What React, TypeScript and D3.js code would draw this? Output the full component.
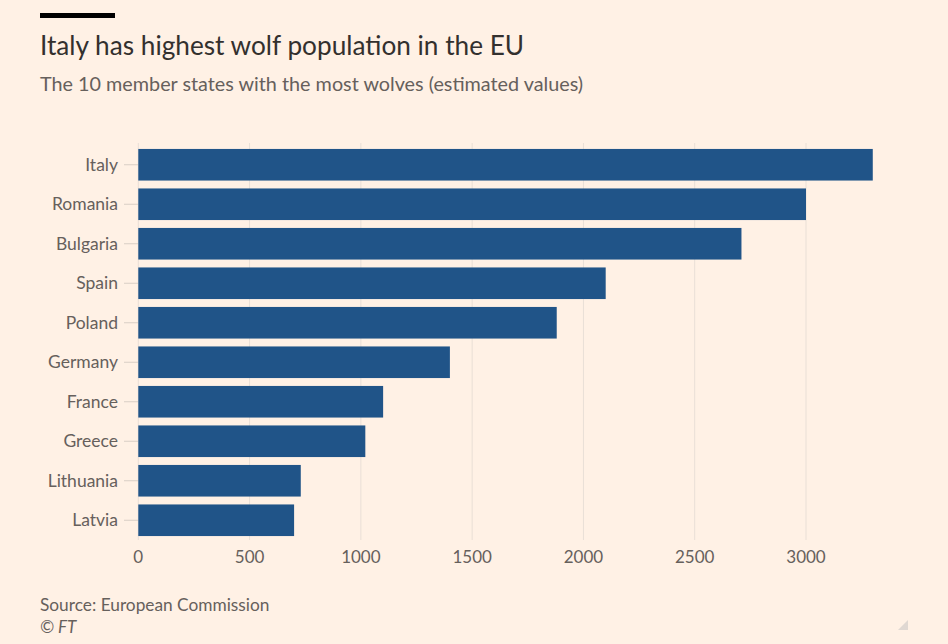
import React from "react";
import * as d3 from "d3";

const countries = ["Italy", "Romania", "Bulgaria", "Spain", "Poland", "Germany", "France", "Greece", "Lithuania", "Latvia"];
const wolves = [3300, 3000, 2710, 2100, 1880, 1400, 1100, 1020, 730, 700];
const xTicks = [0, 500, 1000, 1500, 2000, 2500, 3000];

const title = "Italy has highest wolf population in the EU";
const subtitle = "The 10 member states with the most wolves (estimated values)";
const source = "Source: European Commission";
const copyright = "© FT";

const W = 948;
const H = 644;
const FONT = "Lato, 'Noto Sans', sans-serif";

export default function App() {
  const x = d3.scaleLinear().domain([0, 3000]).range([138.3, 806]);
  const y = d3.scaleBand<string>().domain(countries).range([145, 540]).paddingInner(0.2).paddingOuter(0.1);

  return (
    <div style={{ position: "fixed", left: 0, top: 0, width: W, height: H, background: "#FFF1E5" }}>
      <svg width={W} height={H} style={{ display: "block" }}>
        <rect x={0} y={0} width={W} height={H} fill="#FFF1E5" />
        <rect x={40} y={13} width={75} height={5} fill="#000" />
        <text x={40} y={55} fontFamily={FONT} fontSize={26.2} fill="#33302E">{title}</text>
        <text x={40} y={91} fontFamily={FONT} fontSize={19.8} fill="#66605C">{subtitle}</text>

        {xTicks.map((t) => (
          <g key={t}>
            <line x1={x(t)} x2={x(t)} y1={143} y2={540} stroke="#E9DFD6" strokeWidth={1} />
            <text x={x(t)} y={563} textAnchor="middle" fontFamily={FONT} fontSize={17} fill="#66605C">{t}</text>
          </g>
        ))}

        {countries.map((c, i) => {
          const yc = (y(c) as number) + y.bandwidth() / 2;
          return (
            <g key={c}>
              <line x1={124} x2={138} y1={yc} y2={yc} stroke="#D9CEC5" strokeWidth={1} />
              <text x={118} y={yc} dy="0.35em" textAnchor="end" fontFamily={FONT} fontSize={17.5} fill="#66605C">{c}</text>
              <rect x={x(0)} y={y(c)} width={x(wolves[i]) - x(0)} height={y.bandwidth()} fill="#205488" />
            </g>
          );
        })}

        <text x={40} y={611} fontFamily={FONT} fontSize={17.3} fill="#66605C">{source}</text>
        <text x={40} y={633} fontFamily={FONT} fontSize={17} fontStyle="italic" fill="#66605C">{copyright}</text>
        <path d="M898,630 L908,630 L908,620 Z" fill="#E0D8D2" />
      </svg>
    </div>
  );
}
